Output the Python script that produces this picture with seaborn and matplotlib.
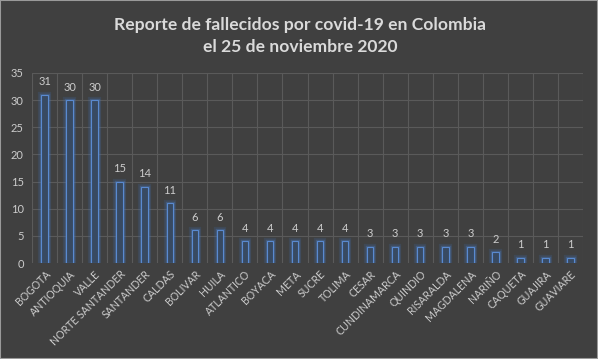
import matplotlib
matplotlib.use("Agg")
import matplotlib.pyplot as plt
import matplotlib.patheffects as pe
import seaborn as sns
import pandas as pd

departamentos = ["BOGOTA", "ANTIOQUIA", "VALLE", "NORTE SANTANDER", "SANTANDER", "CALDAS",
                 "BOLIVAR", "HUILA", "ATLANTICO", "BOYACA", "META", "SUCRE", "TOLIMA",
                 "CESAR", "CUNDINAMARCA", "QUINDIO", "RISARALDA", "MAGDALENA", "NARIÑO",
                 "CAQUETA", "GUAJIRA", "GUAVIARE"]
fallecidos = [31, 30, 30, 15, 14, 11, 6, 6, 4, 4, 4, 4, 4, 3, 3, 3, 3, 3, 2, 1, 1, 1]
yticks = [0, 5, 10, 15, 20, 25, 30, 35]
title = "Reporte de fallecidos por covid-19 en Colombia\nel 25 de noviembre 2020"

df = pd.DataFrame({"dep": departamentos, "n": fallecidos})

bg = "#404040"
sns.set_theme(style="dark")
plt.rcParams["font.family"] = ["Lato", "DejaVu Sans"]

fig = plt.figure(figsize=(5.98, 3.59), dpi=100, facecolor=bg)
ax = fig.add_axes([0.0535, 0.2674, 0.9215, 0.5293])
ax.set_facecolor(bg)

sns.barplot(data=df, x="dep", y="n", ax=ax, color="#384a62", width=0.26,
            edgecolor="#5a8ad0", linewidth=0.8, saturation=1)
for p in ax.patches:
    p.set_path_effects([pe.Stroke(linewidth=4.5, foreground="#3f69a3", alpha=0.22),
                        pe.Stroke(linewidth=2.5, foreground="#4a78b8", alpha=0.4),
                        pe.Normal()])

n = len(departamentos)
ax.set_xlim(-0.5, n - 0.5)
ax.set_ylim(0, 35)
ax.set_yticks(yticks)
ax.set_xticks(range(n))
for i in range(n + 1):
    ax.axvline(i - 0.5, color="#5a5a5a", lw=0.8, zorder=0)
for y in yticks[1:]:
    ax.axhline(y, color="#5a5a5a", lw=0.8, zorder=0)
ax.grid(False)
for s in ax.spines.values():
    s.set_visible(False)

ax.set_xticklabels(departamentos, rotation=45, ha="right", rotation_mode="anchor",
                   fontsize=7.6, color="#cccccc")
ax.tick_params(axis="x", length=0, pad=4)
ax.tick_params(axis="y", length=0, pad=6, labelsize=8, labelcolor="#cccccc")
ax.set_xlabel("")
ax.set_ylabel("")

for i, v in enumerate(fallecidos):
    ax.text(i, v + 1.4, str(v), ha="center", va="bottom", fontsize=8, color="#cccccc")

fig.text(0.502, 0.9, title, ha="center", va="center", fontsize=12.6,
         fontweight="bold", color="#dadada", linespacing=1.4)

fig.patches.append(plt.Rectangle((0, 0), 1, 1, transform=fig.transFigure, fill=False,
                                 edgecolor="#9a9a9a", lw=1.5))
fig.savefig("out.png", dpi=100, facecolor=bg)
